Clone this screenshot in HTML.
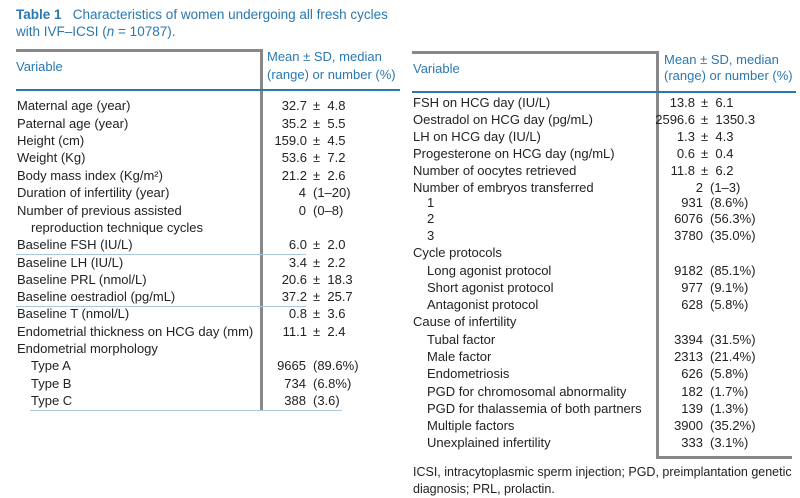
<!DOCTYPE html>
<html><head><meta charset="utf-8">
<style>
body{margin:0;width:800px;height:498px;background:#fff;position:relative;overflow:hidden;font-family:"Liberation Sans",sans-serif;color:#222;}
.t{position:absolute;font-size:13px;letter-spacing:0;white-space:nowrap;line-height:16px;}
.r{text-align:right;}
.b{color:#2a78b2;}
.ln{position:absolute;}
</style></head><body>
<div class="t b" style="left:16px;top:7px;font-size:13.5px"><b>Table 1</b>&nbsp;&nbsp; Characteristics of women undergoing all fresh cycles</div>
<div class="t b" style="left:16px;top:24px;font-size:13.5px">with IVF–ICSI (<i>n</i> = 10787).</div>

<div class="ln" style="left:16px;top:49px;width:247px;height:3px;background:#888"></div>
<div class="ln" style="left:260px;top:49px;width:3px;height:362px;background:#888"></div>
<div class="ln" style="left:16px;top:89px;width:384px;height:2px;background:#2a78b2"></div>
<div class="ln" style="left:16px;top:254px;width:290px;height:1px;background:#a9c8e0"></div>
<div class="ln" style="left:16px;top:306px;width:290px;height:1px;background:#a9c8e0"></div>
<div class="ln" style="left:30px;top:410px;width:312px;height:1px;background:#a9c8e0"></div>
<div class="t b" style="left:16px;top:59px">Variable</div>
<div class="t b" style="left:267px;top:49px">Mean ± SD, median</div>
<div class="t b" style="left:267px;top:67px">(range) or number (%)</div>

<div class="ln" style="left:412px;top:51px;width:247px;height:3px;background:#888"></div>
<div class="ln" style="left:656px;top:51px;width:3px;height:408px;background:#888"></div>
<div class="ln" style="left:656px;top:456px;width:136px;height:3px;background:#888"></div>
<div class="ln" style="left:412px;top:91px;width:384px;height:2px;background:#2a78b2"></div>
<div class="t b" style="left:413px;top:61px">Variable</div>
<div class="t b" style="left:664px;top:52px">Mean ± SD, median</div>
<div class="t b" style="left:664px;top:68px">(range) or number (%)</div>

<div class="t" style="left:413px;top:464px;font-size:12.5px">ICSI, intracytoplasmic sperm injection; PGD, preimplantation genetic</div>
<div class="t" style="left:413px;top:481px;font-size:12.5px">diagnosis; PRL, prolactin.</div>

<script>
const leftRows=[
["Maternal age (year)",0,106,"32.7","± 4.8"],
["Paternal age (year)",0,124,"35.2","± 5.5"],
["Height (cm)",0,141,"159.0","± 4.5"],
["Weight (Kg)",0,158,"53.6","± 7.2"],
["Body mass index (Kg/m²)",0,176,"21.2","± 2.6"],
["Duration of infertility (year)",0,193,"4","(1–20)"],
["Number of previous assisted",0,211,"0","(0–8)"],
["reproduction technique cycles",1,228,"",""],
["Baseline FSH (IU/L)",0,245,"6.0","± 2.0"],
["Baseline LH (IU/L)",0,263,"3.4","± 2.2"],
["Baseline PRL (nmol/L)",0,280,"20.6","± 18.3"],
["Baseline oestradiol (pg/mL)",0,297,"37.2","± 25.7"],
["Baseline T (nmol/L)",0,314,"0.8","± 3.6"],
["Endometrial thickness on HCG day (mm)",0,332,"11.1","± 2.4"],
["Endometrial morphology",0,349,"",""],
["Type A",1,366,"9665","(89.6%)"],
["Type B",1,384,"734","(6.8%)"],
["Type C",1,401,"388","(3.6)"]];
const rightRows=[
["FSH on HCG day (IU/L)",0,103,"13.8","± 6.1"],
["Oestradol on HCG day (pg/mL)",0,120,"2596.6","± 1350.3"],
["LH on HCG day (IU/L)",0,137,"1.3","± 4.3"],
["Progesterone on HCG day (ng/mL)",0,154,"0.6","± 0.4"],
["Number of oocytes retrieved",0,171,"11.8","± 6.2"],
["Number of embryos transferred",0,188,"2","(1–3)"],
["1",1,203,"931","(8.6%)"],
["2",1,219,"6076","(56.3%)"],
["3",1,236,"3780","(35.0%)"],
["Cycle protocols",0,253,"",""],
["Long agonist protocol",1,271,"9182","(85.1%)"],
["Short agonist protocol",1,288,"977","(9.1%)"],
["Antagonist protocol",1,305,"628","(5.8%)"],
["Cause of infertility",0,322,"",""],
["Tubal factor",1,340,"3394","(31.5%)"],
["Male factor",1,357,"2313","(21.4%)"],
["Endometriosis",1,374,"626","(5.8%)"],
["PGD for chromosomal abnormality",1,392,"182","(1.7%)"],
["PGD for thalassemia of both partners",1,409,"139","(1.3%)"],
["Multiple factors",1,426,"3900","(35.2%)"],
["Unexplained infertility",1,443,"333","(3.1%)"]];
function mk(txt,x,y,right){
  const d=document.createElement('div');
  d.className='t'+(right?' r':'');
  d.textContent=txt;
  if(right){d.style.left=(x-80)+'px';d.style.width='80px';}else d.style.left=x+'px';
  d.style.top=(y-8)+'px';
  document.body.appendChild(d);
  return d;
}
function draw(rows,x0,ind,valR,side){
  rows.forEach(r=>{
    const l=mk(r[0],x0+(r[1]?ind:0),r[2],false);
    
    
    if(r[3]){
      const isPm=r[4].startsWith('±');
      const a=mk(r[3],isPm?valR.m:valR.c,r[2],true);
      
      
      const txt=isPm?r[4].replace('± ','±\u00a0\u00a0'):r[4];
      const b=mk(txt,(isPm?valR.m:valR.c)+(isPm?6:7),r[2],false);
      
      
    }
  });
}
draw(leftRows,17,14,{m:307,c:306},'left');
draw(rightRows,413,14,{m:695,c:703},'right');
</script>
</body></html>
